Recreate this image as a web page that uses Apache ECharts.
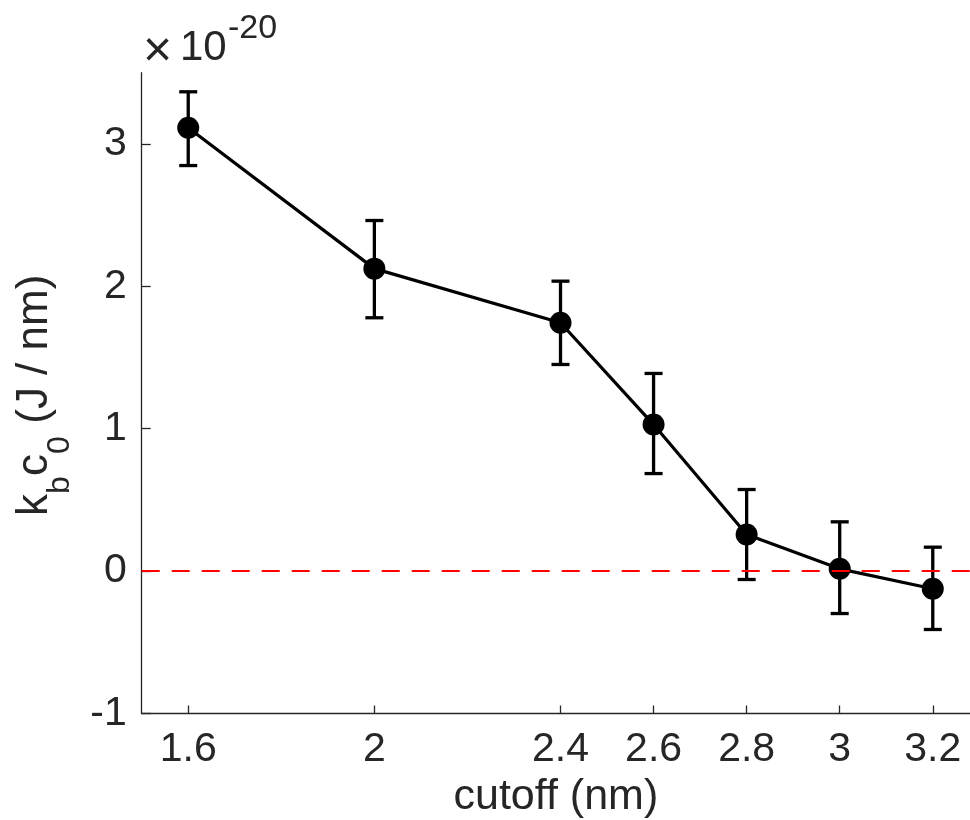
<!DOCTYPE html>
<html>
<head>
<meta charset="utf-8">
<script src="https://cdn.jsdelivr.net/npm/echarts@6/dist/echarts.min.js"></script>
<style>
  html, body { margin: 0; padding: 0; background: #fff; }
  #chart { width: 970px; height: 820px; }
</style>
</head>
<body>
<div id="chart"></div>
<script>
// Bending stiffness times spontaneous curvature vs. cutoff distance
const cutoff = [1.6, 2, 2.4, 2.6, 2.8, 3, 3.2];          // nm
const kbc0   = [3.113, 2.124, 1.744, 1.029, 0.257, 0.016, -0.124]; // x1e-20 J/nm
const errLow  = [2.848, 1.779, 1.451, 0.685, -0.059, -0.298, -0.410];
const errHigh = [3.366, 2.462, 2.036, 1.388, 0.573, 0.346, 0.168];
const xTicks = [1.6, 2, 2.4, 2.6, 2.8, 3, 3.2];
const yTicks = [-1, 0, 1, 2, 3];

const FONT = '"Liberation Sans", Helvetica, Arial, sans-serif';
const INK = '#262626';

const chart = echarts.init(document.getElementById('chart'), null, { renderer: 'canvas' });

const linePoints = cutoff.map((c, i) => [c, kbc0[i]]);
const barData = cutoff.map((c, i) => [c, errLow[i], errHigh[i]]);

function renderErrorBar(params, api) {
  const x = api.value(0);
  const lo = api.coord([x, api.value(1)]);
  const hi = api.coord([x, api.value(2)]);
  const cap = 9;
  const st = { stroke: '#000', lineWidth: 3.3 };
  return {
    type: 'group',
    children: [
      { type: 'line', shape: { x1: lo[0], y1: lo[1], x2: hi[0], y2: hi[1] }, style: st },
      { type: 'line', shape: { x1: lo[0] - cap, y1: lo[1], x2: lo[0] + cap, y2: lo[1] }, style: st },
      { type: 'line', shape: { x1: hi[0] - cap, y1: hi[1], x2: hi[0] + cap, y2: hi[1] }, style: st }
    ]
  };
}

function label(text, x, y, size) {
  return { type: 'text', x: x, y: y, style: { text: text, font: size + 'px ' + FONT, fill: INK } };
}

const option = {
  animation: false,
  backgroundColor: '#fff',
  grid: {
    left: 141.7, top: 72.7, right: 0, bottom: 106.5,
    containLabel: false, outerBoundsMode: 'none'
  },
  xAxis: {
    type: 'value',
    min: 1.5, max: 3.28,
    name: 'cutoff (nm)',
    nameLocation: 'middle',
    nameGap: 56,
    nameTextStyle: { fontFamily: FONT, fontSize: 43, color: INK },
    axisLine: { show: true, onZero: false, lineStyle: { color: INK, width: 1.3 } },
    axisTick: { show: true, inside: true, length: 8, customValues: xTicks, lineStyle: { color: INK, width: 1.3 } },
    axisLabel: { customValues: xTicks, margin: 16, fontFamily: FONT, fontSize: 41, color: INK,
      formatter: v => String(v) },
    splitLine: { show: false }
  },
  yAxis: {
    type: 'value',
    min: -1, max: 3.5,
    axisLine: { show: true, onZero: false, lineStyle: { color: INK, width: 1.3 } },
    axisTick: { show: true, inside: true, length: 9, customValues: yTicks, lineStyle: { color: INK, width: 1.3 } },
    axisLabel: { customValues: yTicks, margin: 15, fontFamily: FONT, fontSize: 41, color: INK,
      formatter: v => String(v) },
    splitLine: { show: false }
  },
  series: [
    {
      type: 'custom',
      renderItem: renderErrorBar,
      data: barData,
      encode: { x: 0, y: [1, 2] },
      z: 2,
      silent: true
    },
    {
      type: 'line',
      data: linePoints,
      symbol: 'circle',
      symbolSize: 22,
      showSymbol: true,
      lineStyle: { color: '#000', width: 3.2 },
      itemStyle: { color: '#000' },
      z: 3,
      silent: true
    },
    {
      // zero reference line
      type: 'line',
      data: [],
      z: 4,
      markLine: {
        silent: true,
        symbol: ['none', 'none'],
        label: { show: false },
        lineStyle: { color: '#ff0000', width: 2, type: [18, 12] },
        data: [{ yAxis: 0 }]
      }
    }
  ],
  graphic: [
    // axis exponent
    label('\u00d7', 143, 27, 50),
    label('10', 180, 27, 42),
    label('-20', 228, 12, 34),
    // y-axis title with subscripts
    {
      type: 'group',
      x: 13, y: 516,
      rotation: Math.PI / 2,
      children: [
        label('k', 0, 0, 44),
        label('b', 22, 31, 32),
        label('c', 40, 0, 44),
        label('0', 62, 31, 32),
        label(' (J / nm)', 80, 0, 44)
      ]
    }
  ]
};

chart.setOption(option);
</script>
</body>
</html>
